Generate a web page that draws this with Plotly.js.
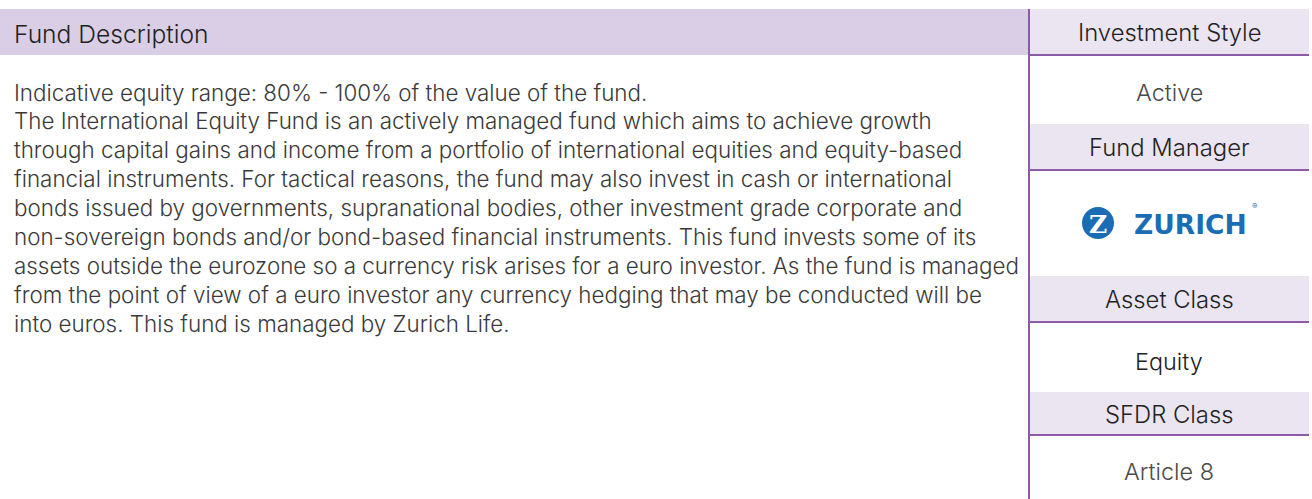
<!DOCTYPE html>
<html>
<head>
<meta charset="utf-8">
<script src="https://cdn.plot.ly/plotly-3.0.1.min.js"></script>
<style>html,body{margin:0;padding:0;background:#fff;}#chart{width:1312px;height:499px;}</style>
</head>
<body>
<div id="chart"></div>
<script>
// ---- content ----
const descTitle = "Fund Description";
const descLines = [
  "Indicative equity range: 80% - 100% of the value of the fund.",
  "The International Equity Fund is an actively managed fund which aims to achieve growth",
  "through capital gains and income from a portfolio of international equities and equity-based",
  "financial instruments. For tactical reasons, the fund may also invest in cash or international",
  "bonds issued by governments, supranational bodies, other investment grade corporate and",
  "non-sovereign bonds and/or bond-based financial instruments. This fund invests some of its",
  "assets outside the eurozone so a currency risk arises for a euro investor. As the fund is managed",
  "from the point of view of a euro investor any currency hedging that may be conducted will be",
  "into euros. This fund is managed by Zurich Life."
];
const sideHeaders = ["Investment Style", "Fund Manager", "Asset Class", "SFDR Class"];
const sideValues = ["Active", "ZURICH", "Equity", "Article 8"];

// ---- layout geometry (pixels) ----
const W = 1312, H = 499;
const topY = 9, divX = 1029, rightEnd = 1309;
const headerRows = [[9, 55], [124, 170], [276, 322], [392, 435]];
const valueCenters = [92, 223, 361, 471];
const lineY0 = 92, lineStep = 28.9;
const font = "Inter, 'Open Sans', sans-serif";
const purple = "#8c5aa8";

const shapes = [];
const annotations = [];

// left header bar
shapes.push({type: "rect", xref: "x", yref: "y", x0: 0, x1: divX, y0: topY, y1: 55,
  fillcolor: "#dacde6", line: {width: 0}, layer: "below"});
annotations.push({x: 12, y: 34, xref: "x", yref: "y", text: descTitle, showarrow: false,
  xanchor: "left", yanchor: "middle", font: {family: font, size: 24.6, weight: 300, color: "#222"}});

descLines.forEach((t, i) => {
  annotations.push({x: 12, y: lineY0 + i * lineStep, xref: "x", yref: "y", text: t, showarrow: false,
    xanchor: "left", yanchor: "middle", font: {family: font, size: 22.4, weight: 300, color: "#3a3a3a"}});
});

// right column
const cx = (divX + rightEnd) / 2;
sideHeaders.forEach((h, i) => {
  const [a, b] = headerRows[i];
  shapes.push({type: "rect", xref: "x", yref: "y", x0: divX, x1: rightEnd, y0: a, y1: b,
    fillcolor: "#ebe5f2", line: {width: 0}, layer: "below"});
  shapes.push({type: "line", xref: "x", yref: "y", x0: divX, x1: rightEnd, y0: b, y1: b,
    line: {color: purple, width: 2}});
  annotations.push({x: cx, y: (a + b) / 2 + 0.5, xref: "x", yref: "y", text: h, showarrow: false,
    xanchor: "center", yanchor: "middle", font: {family: font, size: 23.8, weight: 300, color: "#222"}});
});
sideValues.forEach((v, i) => {
  if (v === "ZURICH") {
    shapes.push({type: "circle", xref: "x", yref: "y", x0: 1082, x1: 1114, y0: valueCenters[i] - 16, y1: valueCenters[i] + 16,
      fillcolor: "#1a6db4", line: {width: 0}});
    annotations.push({x: 1098, y: valueCenters[i] + 1, xref: "x", yref: "y", text: "<b>Z</b>", showarrow: false,
      xanchor: "center", yanchor: "middle", font: {family: "'DejaVu Serif', serif", size: 25, color: "#fff"}});
    annotations.push({x: 1132, y: valueCenters[i] + 1, xref: "x", yref: "y", text: "<b>ZURICH</b>", showarrow: false,
      xanchor: "left", yanchor: "middle", font: {family: "'DejaVu Sans', sans-serif", size: 26.5, color: "#1a6db4"}});
    annotations.push({x: 1254, y: valueCenters[i] - 17, xref: "x", yref: "y", text: "®", showarrow: false,
      xanchor: "center", yanchor: "middle", font: {family: font, size: 8, color: "#1a6db4"}});
  } else {
    annotations.push({x: cx, y: valueCenters[i], xref: "x", yref: "y", text: v, showarrow: false,
      xanchor: "center", yanchor: "middle",
      font: {family: font, size: 23.4, weight: 300, color: (i === 2 ? "#222" : "#4a4a4a")}});
  }
});

// vertical divider
shapes.push({type: "line", xref: "x", yref: "y", x0: divX, x1: divX, y0: topY, y1: H,
  line: {color: purple, width: 2}});

const layout = {
  width: W, height: H,
  margin: {l: 0, r: 0, t: 0, b: 0},
  paper_bgcolor: "#fff", plot_bgcolor: "#fff",
  xaxis: {range: [0, W], visible: false, fixedrange: true},
  yaxis: {range: [H, 0], visible: false, fixedrange: true},
  shapes: shapes, annotations: annotations, showlegend: false
};
Plotly.newPlot("chart", [], layout, {displayModeBar: false, staticPlot: true});
</script>
</body>
</html>
